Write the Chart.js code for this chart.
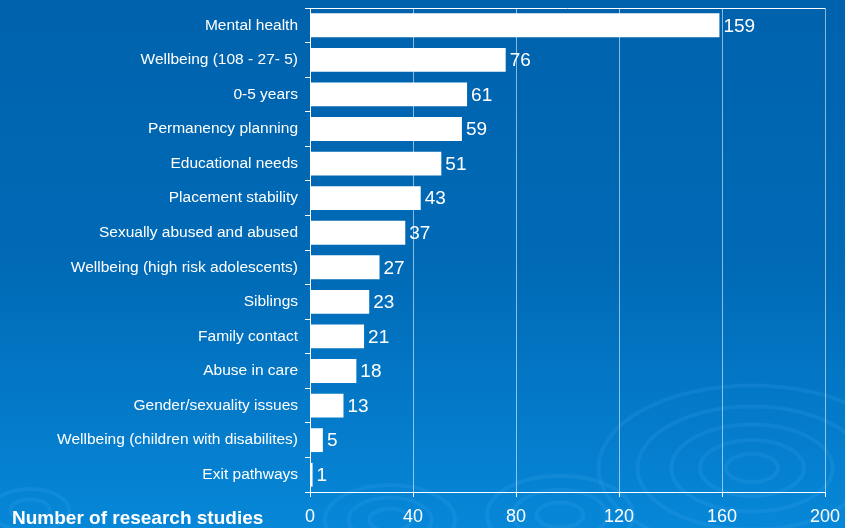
<!DOCTYPE html>
<html>
<head>
<meta charset="utf-8">
<title>Number of research studies</title>
<script src="https://cdn.jsdelivr.net/npm/chart.js@4.4.1/dist/chart.umd.min.js"></script>
<style>
  html, body { margin: 0; padding: 0; background: #0068b4; }
  #wrap { width: 845px; height: 528px; position: relative; }
</style>
</head>
<body>
<div id="wrap"><canvas id="studies-chart" width="845" height="528"></canvas></div>
<script>
// data
const categories = [
  'Mental health',
  'Wellbeing (108 - 27- 5)',
  '0-5 years',
  'Permanency planning',
  'Educational needs',
  'Placement stability',
  'Sexually abused and abused',
  'Wellbeing (high risk adolescents)',
  'Siblings',
  'Family contact',
  'Abuse in care',
  'Gender/sexuality issues',
  'Wellbeing (children with disabilites)',
  'Exit pathways'
];
const studyCounts = [159, 76, 61, 59, 51, 43, 37, 27, 23, 21, 18, 13, 5, 1];
const xTickValues = [0, 40, 80, 120, 160, 200];
const axisTitle = 'Number of research studies';

const FONT = "'Liberation Sans', Arial, Helvetica, sans-serif";

// blue slide background with faint ripples
const backdrop = {
  id: 'backdrop',
  beforeDraw(chart) {
    const { ctx, width, height } = chart;
    ctx.save();
    const g = ctx.createLinearGradient(0, 0, 0, height);
    g.addColorStop(0, '#0062ad');
    g.addColorStop(0.5, '#006ab6');
    g.addColorStop(1, '#0787d8');
    ctx.fillStyle = g;
    ctx.fillRect(0, 0, width, height);

    const ripples = [
      { x: 752, y: 468, r: [20, 40, 62, 88, 118] },
      { x: 560, y: 515, r: [18, 36, 56] },
      { x: 390, y: 520, r: [16, 32, 50] },
      { x: 30, y: 510, r: [15, 30] }
    ];
    ctx.strokeStyle = 'rgba(90,190,255,0.12)';
    ctx.lineWidth = 4;
    ripples.forEach(rp => {
      rp.r.forEach(r => {
        ctx.beginPath();
        ctx.ellipse(rp.x, rp.y, r * 1.3, r * 0.7, 0, 0, Math.PI * 2);
        ctx.stroke();
      });
    });
    ctx.restore();
  }
};

// values at the bar ends, top frame line and the axis caption
const annotations = {
  id: 'annotations',
  afterDatasetsDraw(chart) {
    const { ctx, chartArea } = chart;
    ctx.save();
    ctx.strokeStyle = '#ffffff';
    ctx.lineWidth = 1;
    ctx.beginPath();
    ctx.moveTo(chartArea.left, chartArea.top + 0.5);
    ctx.lineTo(chartArea.right, chartArea.top + 0.5);
    ctx.stroke();

    ctx.fillStyle = '#ffffff';
    ctx.font = '19px ' + FONT;
    ctx.textAlign = 'left';
    ctx.textBaseline = 'middle';
    chart.getDatasetMeta(0).data.forEach((bar, i) => {
      ctx.fillText(String(studyCounts[i]), bar.x + 4, bar.y + 1);
    });

    ctx.font = 'bold 19px ' + FONT;
    ctx.textBaseline = 'alphabetic';
    ctx.fillText(axisTitle, 12, 524);
    ctx.restore();
  }
};

new Chart(document.getElementById('studies-chart'), {
  type: 'bar',
  data: {
    labels: categories,
    datasets: [{
      data: studyCounts,
      backgroundColor: '#ffffff',
      borderWidth: 0,
      barPercentage: 0.69,
      categoryPercentage: 1
    }]
  },
  options: {
    indexAxis: 'y',
    responsive: false,
    animation: false,
    layout: { padding: { top: 8, right: 20, left: 0, bottom: 0 } },
    plugins: {
      legend: { display: false },
      tooltip: { enabled: false }
    },
    scales: {
      x: {
        min: 0,
        max: 200,
        afterBuildTicks: axis => { axis.ticks = xTickValues.map(v => ({ value: v })); },
        afterFit: axis => {
          axis.height = 36;
          axis.paddingLeft = 0;
          axis.paddingRight = 0;
        },
        grid: {
          color: 'rgba(255,255,255,0.55)',
          tickColor: '#ffffff',
          tickLength: 5
        },
        border: { color: '#ffffff', width: 1 },
        ticks: {
          color: '#ffffff',
          font: { family: FONT, size: 18 },
          padding: 9,
          maxRotation: 0
        }
      },
      y: {
        afterFit: axis => {
          axis.width = 310;
          axis.paddingTop = 0;
          axis.paddingBottom = 0;
        },
        grid: {
          drawOnChartArea: false,
          tickColor: '#ffffff',
          tickLength: 5
        },
        border: { color: '#ffffff', width: 1 },
        ticks: {
          color: '#ffffff',
          font: { family: FONT, size: 15.5 },
          padding: 7
        }
      }
    }
  },
  plugins: [backdrop, annotations]
});
</script>
</body>
</html>
